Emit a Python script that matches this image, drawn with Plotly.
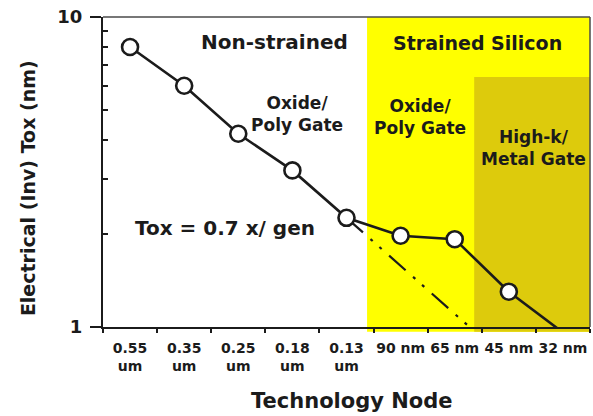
import math
import plotly.graph_objects as go

# Technology nodes (category axis) and their two-line tick labels
nodes = ["0.55 um", "0.35 um", "0.25 um", "0.18 um", "0.13 um",
         "90 nm", "65 nm", "45 nm", "32 nm"]
tick_labels = ["0.55<br>um", "0.35<br>um", "0.25<br>um", "0.18<br>um", "0.13<br>um",
               "90 nm", "65 nm", "45 nm", "32 nm"]

# Electrical (inversion) oxide thickness per node, nm
tox_nm = [8.0, 6.0, 4.2, 3.2, 2.25, 1.97, 1.92, 1.3, 0.96]
n_marked = 8  # nodes drawn with an open-circle marker

# Classic scaling trend: 0.7x per generation from the 0.13 um node
trend_factor = 0.7
trend_start = 4
trend_nodes = nodes[trend_start:8]
trend_vals = [tox_nm[trend_start] * trend_factor ** k for k in range(len(trend_nodes))]

INK = "#1b1b1b"
FONT = "DejaVu Sans"

fig = go.Figure()

fig.add_trace(go.Scatter(
    x=trend_nodes, y=trend_vals, mode="lines",
    line=dict(color=INK, width=2.2, dash="22px,10px,3px,9px,3px,10px"),
    hoverinfo="skip", showlegend=False,
))
fig.add_trace(go.Scatter(
    x=nodes, y=tox_nm, mode="lines",
    line=dict(color=INK, width=2.6),
    showlegend=False,
))
fig.add_trace(go.Scatter(
    x=nodes[:n_marked], y=tox_nm[:n_marked], mode="markers",
    marker=dict(size=16, color="white", line=dict(color=INK, width=2.6)),
    showlegend=False, cliponaxis=False,
))

# Shaded technology regions (log axis spans exactly one decade, so paper y = log10(value))
shapes = [
    dict(type="rect", xref="x", yref="paper", x0=4.38, x1=8.5, y0=-0.015, y1=1,
         fillcolor="#ffff00", line=dict(width=0), layer="below"),
    dict(type="rect", xref="x", yref="paper", x0=6.36, x1=8.5, y0=-0.015, y1=math.log10(6.4),
         fillcolor="#ddcb0c", line=dict(width=0), layer="below"),
    # top and right frame
    dict(type="line", xref="paper", yref="paper", x0=0, x1=1, y0=1, y1=1,
         line=dict(color="#4a4a4a", width=1.5), layer="above"),
    dict(type="line", xref="paper", yref="paper", x0=1, x1=1, y0=0, y1=1,
         line=dict(color="#4a4a4a", width=1.5), layer="above"),
]

def note(text, x, y, size, **kw):
    return dict(text=text, xref="paper", yref="paper", x=x, y=y, showarrow=False,
                xanchor="center", yanchor="middle",
                font=dict(family=FONT, size=size, color=INK, weight="bold"), **kw)

annotations = [
    note("Non-strained", 0.353, 0.919, 20),
    note("Strained Silicon", 0.770, 0.916, 19),
    note("Oxide/<br>Poly Gate", 0.398, 0.687, 17),
    note("Oxide/<br>Poly Gate", 0.651, 0.676, 17),
    note("High-k/<br>Metal Gate", 0.885, 0.579, 17),
    note("Tox = 0.7 x/ gen", 0.2505, 0.319, 20),
    note("Technology Node", 0.511, -0.240, 21),
    note("Electrical (Inv) Tox (nm)", -0.154, 0.448, 19, textangle=-90),
]

fig.update_layout(
    width=593, height=416,
    margin=dict(l=103, r=3, t=17, b=89),
    paper_bgcolor="white", plot_bgcolor="white",
    font=dict(family=FONT, color=INK, weight="bold"),
    shapes=shapes, annotations=annotations,
    showlegend=False,
)

fig.update_xaxes(
    type="category", categoryorder="array", categoryarray=nodes,
    range=[-0.5, 8.5], automargin=False,
    tickmode="array", tickvals=nodes, ticktext=tick_labels, tickangle=0,
    tickson="boundaries", ticks="outside", ticklen=4, tickwidth=1.5, tickcolor=INK,
    ticklabelstandoff=7,
    tickfont=dict(family=FONT, size=14, color=INK, weight="bold"),
    showline=True, linecolor=INK, linewidth=2,
    showgrid=False, zeroline=False,
)

fig.update_yaxes(
    type="log", range=[0, 1], automargin=False,
    tickmode="array", tickvals=[1, 10], ticktext=["1", "10"],
    ticks="outside", ticklen=11, tickwidth=1.5, tickcolor=INK,
    ticklabelstandoff=4,
    tickfont=dict(family=FONT, size=18, color=INK, weight="bold"),
    minor=dict(tickmode="array", tickvals=[2, 3, 4, 5, 6, 7, 8, 9],
               ticks="inside", ticklen=5, tickwidth=1.5, tickcolor=INK, showgrid=False),
    showline=True, linecolor=INK, linewidth=2,
    showgrid=False, zeroline=False,
)

fig.write_html("out.html")
